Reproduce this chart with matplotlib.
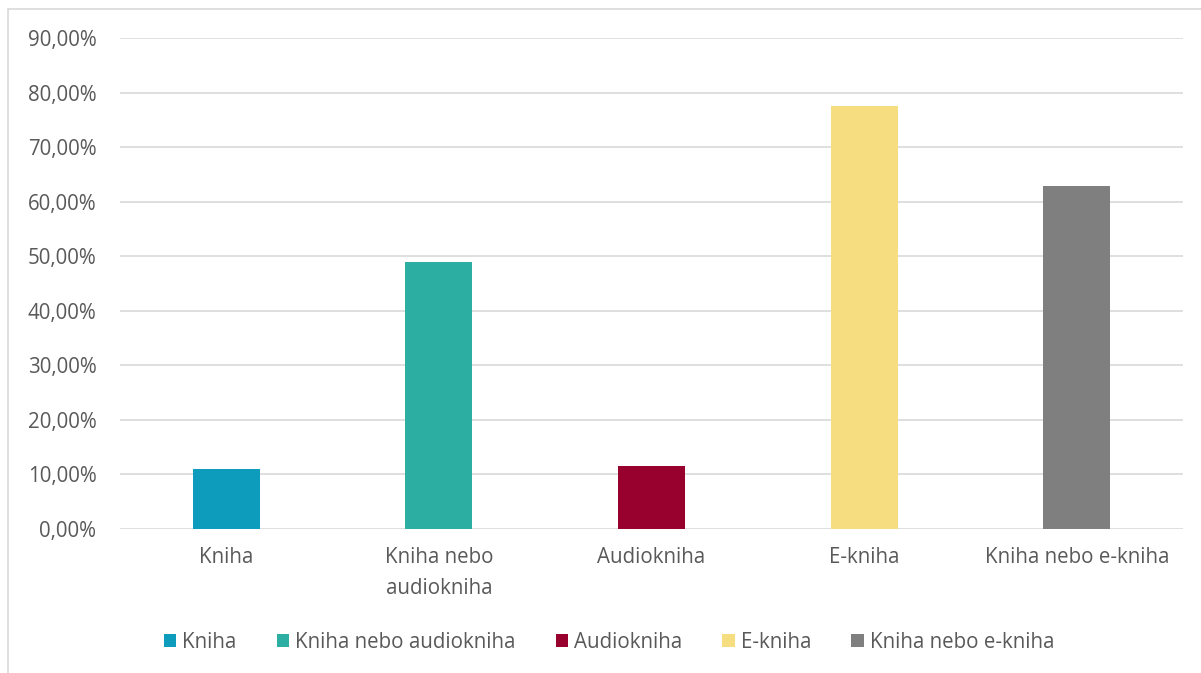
import matplotlib.pyplot as plt
from matplotlib.patches import Rectangle, Patch
from matplotlib.ticker import FuncFormatter

# Data
categories = ['Kniha', 'Kniha nebo\naudiokniha', 'Audiokniha', 'E-kniha', 'Kniha nebo e-kniha']
legend_labels = ['Kniha', 'Kniha nebo audiokniha', 'Audiokniha', 'E-kniha', 'Kniha nebo e-kniha']
values = [11.0, 49.0, 11.5, 77.5, 62.8]
colors = ['#0e9cbc', '#2daea3', '#98002e', '#f6de80', '#7f7f7f']

plt.rcParams['font.family'] = ['Open Sans', 'DejaVu Sans']

fig = plt.figure(figsize=(12.01, 6.73), dpi=100)
ax = fig.add_axes([120 / 1201, 1 - 529 / 673, 1063 / 1201, 491 / 673])

x = range(len(values))
ax.bar(x, values, width=0.315, color=colors, zorder=3)

ax.set_xlim(-0.5, len(values) - 0.5)
ax.set_ylim(0, 90)
ax.set_yticks(range(0, 91, 10))
ax.yaxis.set_major_formatter(FuncFormatter(lambda v, p: f'{v:.2f}%'.replace('.', ',')))
ax.set_xticks(list(x))
ax.set_xticklabels(categories, linespacing=1.6)
ax.grid(axis='y', color='#d9d9d9', linewidth=1.2, zorder=0)
for s in ax.spines.values():
    s.set_visible(False)
ax.tick_params(axis='both', length=0, labelsize=14.8, colors='#595959')
ax.tick_params(axis='y', pad=17)
ax.tick_params(axis='x', pad=13)

# outer chart border
fig.patches.append(Rectangle((8 / 1201, -0.05), 1.1, 1 - 9 / 673 + 0.05,
                             transform=fig.transFigure, fill=False,
                             edgecolor='#d9d9d9', linewidth=1.2))

handles = [Patch(facecolor=c) for c in colors]
fig.legend(handles, legend_labels, loc='center', bbox_to_anchor=(609 / 1201, 1 - 642 / 673),
           ncol=5, frameon=False, fontsize=14.8, labelcolor='#595959',
           handlelength=0.6, handleheight=0.6, handletextpad=0.3, columnspacing=1.95)

fig.savefig('out.png', dpi=100)
